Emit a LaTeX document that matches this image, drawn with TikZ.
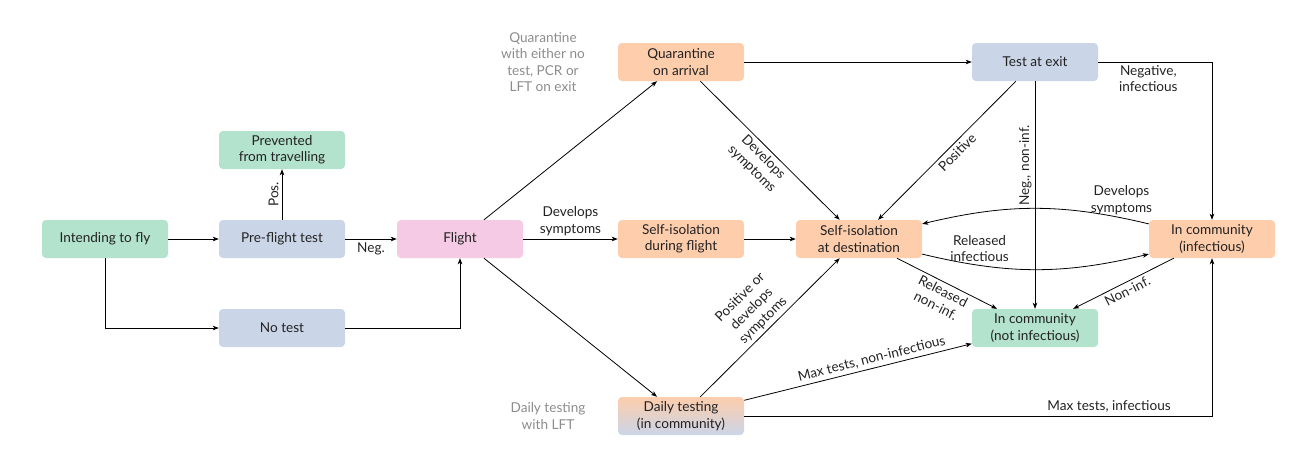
\documentclass[tikz,border=0pt]{standalone}
\usepackage{fontspec}
\setmainfont{Lato}
\usetikzlibrary{arrows.meta}
\definecolor{cgreen}{HTML}{B3E2CD}
\definecolor{corange}{HTML}{FDCDAC}
\definecolor{cblue}{HTML}{CBD5E8}
\definecolor{cpink}{HTML}{F4CAE4}
\definecolor{ctext}{HTML}{222222}
\definecolor{cnote}{HTML}{8C8C8C}
\begin{document}
\begin{tikzpicture}[x=1pt,y=-1pt,
  font=\fontsize{13.6}{16.3}\selectfont,
  box/.style={rounded corners=4pt, minimum width=126pt, minimum height=38pt,
    align=center, inner sep=2pt, text=ctext},
  arr/.style={-{Stealth[length=6pt,width=4.5pt,inset=1.5pt]}, line width=0.8pt},
  lbl/.style={align=center, inner sep=3pt, text=ctext},
  note/.style={align=center, text=cnote}]
\useasboundingbox (0,0) rectangle (1304,464);

\node[box, fill=cgreen] (int) at (105,239) {Intending to fly};
\node[box, fill=cblue] (pre) at (282,239) {Pre-flight test};
\node[box, fill=cgreen] (prev) at (282,150) {Prevented\\from travelling};
\node[box, fill=cblue] (notest) at (282,328) {No test};
\node[box, fill=cpink] (flight) at (460,239) {Flight};
\node[box, fill=corange] (quar) at (681,62) {Quarantine\\on arrival};
\node[box, fill=corange] (sidf) at (681,239) {Self-isolation\\during flight};
\node[box, top color=corange, bottom color=cblue] (daily) at (681,416) {Daily testing\\(in community)};
\node[box, fill=cblue] (exit) at (1035,62) {Test at exit};
\node[box, fill=corange] (dest) at (859,239) {Self-isolation\\at destination};
\node[box, fill=corange] (infc) at (1212,239) {In community\\(infectious)};
\node[box, fill=cgreen] (noninf) at (1035,328) {In community\\(not infectious)};

\node[note] (n1) at (543,62) {Quarantine\\with either no\\test, PCR or\\LFT on exit};
\node[note] (n2) at (548,416) {Daily testing\\with LFT};

\draw[arr] (int) -- (pre);
\draw[arr] (int) |- (notest);
\draw[arr] (pre) -- node[lbl, rotate=90, anchor=south] {Pos.} (prev);
\draw[arr] (pre) -- node[lbl, below] {Neg.} (flight);
\draw[arr] (notest) -| (flight);
\draw[arr] (flight) -- (quar);
\draw[arr] (flight) -- node[lbl, above] {Develops\\symptoms} (sidf);
\draw[arr] (flight) -- (daily);
\draw[arr] (quar) -- (exit);
\draw[arr] (quar) -- node[lbl, sloped, below] {Develops\\symptoms} (dest);
\draw[arr] (sidf) -- (dest);
\draw[arr] (exit) -- node[lbl, pos=0.47, sloped, below] {Positive} (dest);
\draw[arr] (exit) -- node[lbl, pos=0.37, rotate=90, anchor=south] {Neg., non-inf.} (noninf);
\draw[arr] (exit) -| node[lbl, pos=0.22, below] {Negative,\\infectious} (infc);
\draw[arr] (infc) to[bend right=13.5] node[lbl, pos=0.11, above] {Develops\\symptoms} (dest);
\draw[arr] (dest) to[bend right=13.5] node[lbl, pos=0.24, above] {Released\\infectious} (infc);
\draw[arr] (dest) -- node[lbl, sloped, below] {Released\\non-inf.} (noninf);
\draw[arr] (infc) -- node[lbl, sloped, below] {Non-inf.} (noninf);
\draw[arr] (daily) -- node[lbl, sloped, above] {Positive or\\develops\\symptoms} (dest);
\draw[arr] (daily) -- node[lbl, pos=0.57, sloped, above] {Max tests, non-infectious} (noninf);
\draw[arr] (daily) -| node[lbl, pos=0.39, above] {Max tests, infectious} (infc);
\end{tikzpicture}
\end{document}
